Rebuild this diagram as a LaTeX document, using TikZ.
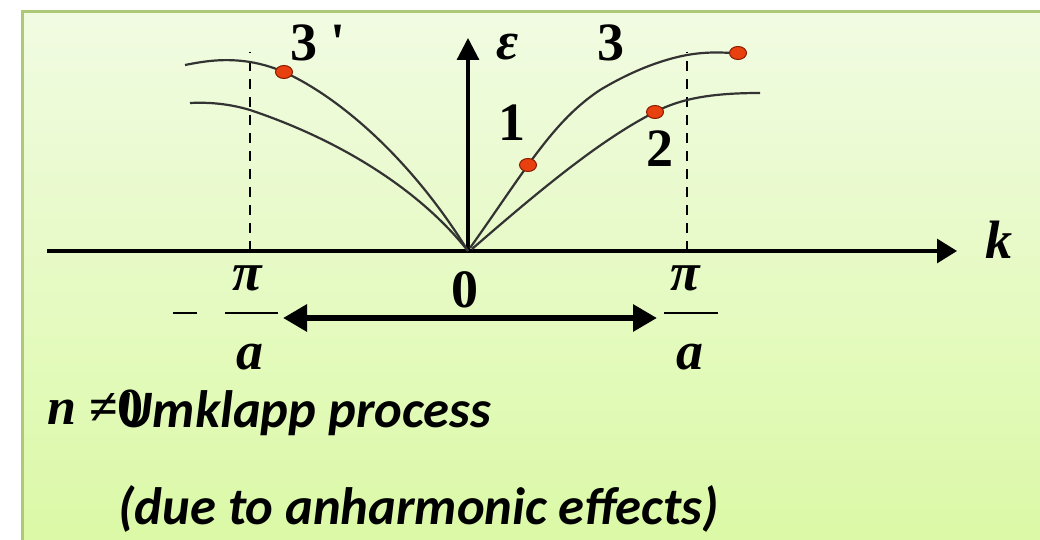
\documentclass[tikz,border=0pt]{standalone}
\usepackage{fontspec}
\setmainfont{Liberation Serif}
\newfontfamily\tnr{Liberation Serif}
\newfontfamily\carlfont{Carlito}
\usetikzlibrary{arrows.meta,shapes.geometric}
\definecolor{bgtop}{HTML}{F1FBE2}
\definecolor{bgbot}{HTML}{DBF9A6}
\definecolor{framegreen}{HTML}{ADC978}
\definecolor{dotred}{HTML}{E8400E}
\definecolor{dotedge}{HTML}{8A1A00}
\definecolor{curvegray}{HTML}{333333}
\begin{document}
\begin{tikzpicture}[x=0.5pt,y=-0.5pt,
  lbl/.style={font=\fontsize{27}{27}\selectfont\bfseries, inner sep=0pt},
  ilbl/.style={font=\fontsize{27}{27}\selectfont\bfseries\itshape, inner sep=0pt},
  note/.style={font=\fontsize{26.3}{26.3}\selectfont\carlfont\bfseries\itshape, inner sep=0pt, anchor=base west},
  axis/.style={line width=1.6pt},
  band/.style={line width=1.1pt, curvegray},
  guide/.style={line width=1pt, dash pattern=on 5pt off 4pt},
  fracbar/.style={line width=1pt},
  dotmark/.style={ellipse, draw=dotedge, fill=dotred, line width=0.5pt, minimum width=8.5pt, minimum height=6.5pt, inner sep=0pt},
  zone/.style={line width=3pt, {Triangle[length=12pt,width=13pt]}-{Triangle[length=12pt,width=13pt]}}
]
\useasboundingbox (0,0) rectangle (1040,540);
\fill[white] (0,0) rectangle (1040,540);
\shade[top color=bgtop, bottom color=bgbot] (22,12) rectangle (1044,544);
\draw[framegreen, line width=1.5pt] (22,544) -- (22,12) -- (1044,12);

% axes
\coordinate (O) at (468,251);
\coordinate (xs) at (47,251);
\coordinate (xe) at (957,251);
\coordinate (ye) at (468,38);
\draw[axis, -{Triangle[length=10pt,width=12pt]}] (xs) -- (xe);
\draw[axis, -{Triangle[length=11pt,width=11pt]}] (O) -- (ye);

% zone boundaries
\coordinate (zlb) at (250,251);
\coordinate (zlt) at (250,52);
\coordinate (zrb) at (687,251);
\coordinate (zrt) at (687,52);
\draw[guide] (zlb) -- (zlt);
\draw[guide] (zrb) -- (zrt);

% dots (points on curves)
\coordinate (p3p) at (284,72);
\coordinate (p1) at (528,165);
\coordinate (p2) at (655,112);
\coordinate (p3) at (738,53);

% branches
\draw[band] (O) .. controls (415,165) and (345,100) .. (p3p)
   .. controls (272,67) and (262,64) .. (250,62)
   .. controls (225,58) and (205,61) .. (185,65);
\draw[band] (O) .. controls (420,190) and (340,140) .. (250,110)
   .. controls (230,104) and (210,102) .. (190,103);
\draw[band] (470,248) .. controls (490,220) and (510,190) .. (p1)
   .. controls (550,135) and (570,110) .. (600,90)
   .. controls (630,72) and (660,60) .. (687,55)
   .. controls (710,51) and (725,53) .. (p3);
\draw[band] (472,249) .. controls (540,190) and (600,140) .. (p2)
   .. controls (680,99) and (710,93) .. (760,93);

\node[dotmark] (d3p) at (p3p) {};
\node[dotmark] (d1) at (p1) {};
\node[dotmark] (d2) at (p2) {};
\node[dotmark] (d3) at (p3) {};

% labels
\node[lbl] (l3p) at (318,43) {\tnr 3 '};
\node[lbl] (l3) at (611,43) {3};
\node[lbl] (l1) at (512,123) {1};
\node[lbl] (l2) at (660,149) {2};
\node[ilbl] (leps) at (508,47) {ε};
\node[ilbl] (lk) at (999,240) {k};
\node[lbl] (l0) at (465,290) {0};

% -pi/a
\draw[fracbar] (173,313) -- (197,313);
\draw[fracbar] (225,313) -- (278,313);
\node[ilbl] (lpi1) at (247,278) {π};
\node[ilbl] (la1) at (250,357) {a};
% pi/a
\draw[fracbar] (664,313) -- (718,313);
\node[ilbl] (lpi2) at (685,278) {π};
\node[ilbl] (la2) at (690,357) {a};

% double arrow
\coordinate (al) at (283,318);
\coordinate (ar) at (657,318);
\draw[zone] (al) -- (ar);

% texts (overlapping as in the reference)
\node[lbl, font=\fontsize{26}{26}\selectfont\bfseries, anchor=base west] (cond) at (47,424) {\textit{n} ≠0};
\node[note] (umk) at (118,427) {Umklapp process};
\node[note] (anh) at (118,524) {(due to anharmonic effects)};
\end{tikzpicture}
\end{document}
